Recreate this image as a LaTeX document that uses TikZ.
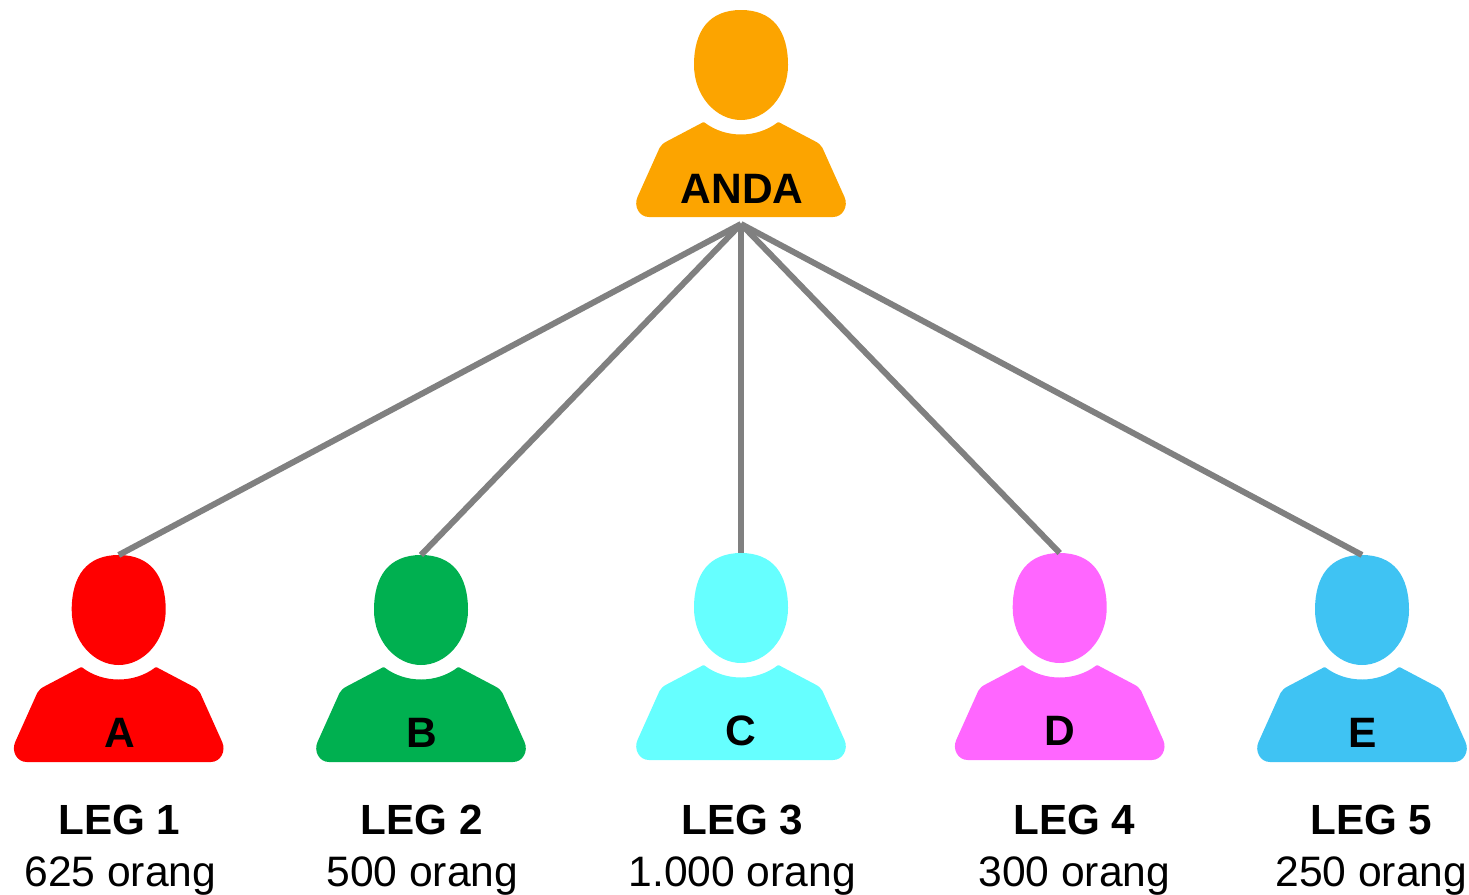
\documentclass[tikz,border=0pt]{standalone}
\usepackage{fontspec}
\setmainfont{Liberation Sans}
\definecolor{cOrange}{HTML}{FCA400}
\definecolor{cRed}{HTML}{FF0000}
\definecolor{cGreen}{HTML}{00B050}
\definecolor{cCyan}{HTML}{66FFFF}
\definecolor{cPink}{HTML}{FF66FF}
\definecolor{cBlue}{HTML}{3FC3F3}
\definecolor{cLine}{HTML}{808080}
\tikzset{
  x=1pt,y=-1pt,
  link/.style={draw=cLine,line width=6pt},
  initial/.style={font=\fontsize{42.5}{42.5}\selectfont\bfseries,anchor=base,inner sep=0pt,text=black},
  legname/.style={font=\fontsize{42.2}{42.2}\selectfont\bfseries,anchor=base,inner sep=0pt,text=black},
  legcount/.style={font=\fontsize{42.6}{42.6}\selectfont,anchor=base,inner sep=0pt,text=black},
  person/.pic={
    \fill[pic actions]
      (0,0) .. controls (32,0) and (47,21) .. (47,55)
      .. controls (47,86) and (25,110) .. (0,110)
      .. controls (-25,110) and (-47,86) .. (-47,55)
      .. controls (-47,21) and (-32,0) .. (0,0) -- cycle;
    \fill[pic actions]
      (-38,112.3) .. controls (-37.5,112) and (-37,112) .. (-36.5,112.5)
      .. controls (-26,120.5) and (-13,124.5) .. (0,124.5)
      .. controls (13,124.5) and (26,120.5) .. (36.5,112.5)
      .. controls (37,112) and (37.5,112) .. (38,112.3)
      -- (73.5,131) .. controls (77.5,133) and (80,135) .. (81.5,138)
      -- (103.5,187) .. controls (107.5,196) and (102,207) .. (92,207)
      -- (-92,207) .. controls (-102,207) and (-107.5,196) .. (-103.5,187)
      -- (-81.5,138) .. controls (-80,135) and (-77.5,133) .. (-73.5,131)
      -- cycle;
    \coordinate (-top) at (0,0);
  }
}
\begin{document}
\begin{tikzpicture}
\useasboundingbox (0,0) rectangle (1469,894);
\pic[fill=cOrange] (anda) at (741,10) {person};
\pic[fill=cRed] (a) at (118.7,555) {person};
\pic[fill=cGreen] (b) at (421,555) {person};
\pic[fill=cCyan] (c) at (741,553) {person};
\pic[fill=cPink] (d) at (1059.7,553) {person};
\pic[fill=cBlue] (e) at (1362,555) {person};
\node[initial] (andaLabel) at (742.3,203.5) {ANDA};
\node[initial] (aLabel) at (120.3,747.5) {A};
\node[initial] (bLabel) at (421.8,747.5) {B};
\node[initial] (cLabel) at (741.3,745.5) {C};
\node[initial] (dLabel) at (1060.3,745.5) {D};
\node[initial] (eLabel) at (1362.8,747.5) {E};
\node[legname] (leg1) at (119.5,834.5) {LEG 1};
\node[legname] (leg2) at (421.8,834.5) {LEG 2};
\node[legname] (leg3) at (742.3,834.5) {LEG 3};
\node[legname] (leg4) at (1074.3,834.5) {LEG 4};
\node[legname] (leg5) at (1371.5,834.5) {LEG 5};
\node[legcount] (n1) at (120.3,886) {625 orang};
\node[legcount] (n2) at (422.3,886) {500 orang};
\node[legcount] (n3) at (742.3,886) {1.000 orang};
\node[legcount] (n4) at (1074.3,886) {300 orang};
\node[legcount] (n5) at (1371.3,886) {250 orang};
\coordinate (hub) at (741,224);
\draw[link] (hub) -- (a-top);
\draw[link] (hub) -- (b-top);
\draw[link] (hub) -- (c-top);
\draw[link] (hub) -- (d-top);
\draw[link] (hub) -- (e-top);
\end{tikzpicture}
\end{document}
